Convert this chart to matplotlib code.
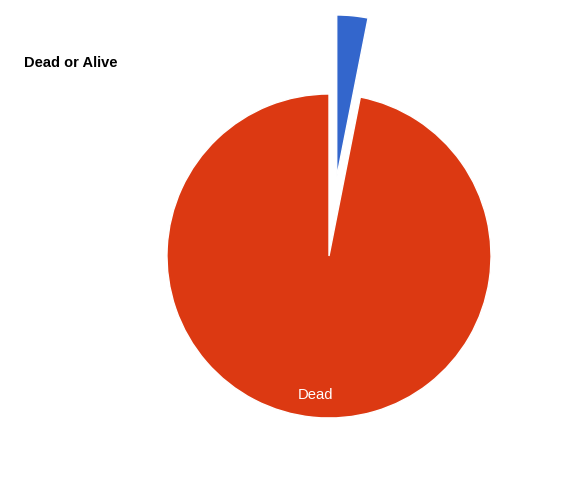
import matplotlib
matplotlib.use("Agg")
import matplotlib.pyplot as plt

categories = ["Alive", "Dead"]
values = [3.1, 96.9]
colors = ["#3366CC", "#DC3912"]
title = "Dead or Alive"

W, H = 576, 484
fig = plt.figure(figsize=(W / 100, H / 100), dpi=100)
cx, cy, r = 329, 256, 162
ax = fig.add_axes([(cx - r) / W, (H - cy - r) / H, 2 * r / W, 2 * r / H])

wedges, texts = ax.pie(
    values,
    labels=["", "Dead"],
    colors=colors,
    startangle=90,
    counterclock=False,
    explode=[0.49, 0],
    labeldistance=0.86,
    radius=1,
    wedgeprops=dict(linewidth=1, edgecolor="white"),
    textprops=dict(color="white", fontsize=10.6, family="Liberation Sans"),
)
for t in texts:
    t.set_ha("center")
    t.set_va("center")
for w in wedges:
    w.set_clip_on(False)
ax.set_xlim(-1, 1)
ax.set_ylim(-1, 1)
ax.set_aspect("equal")
ax.axis("off")

fig.text(24 / W, 1 - 67 / H, title, fontsize=10.5, fontweight="bold",
         family="Liberation Sans", ha="left", va="baseline", color="black")

fig.savefig("out.png", dpi=100, facecolor="white")
